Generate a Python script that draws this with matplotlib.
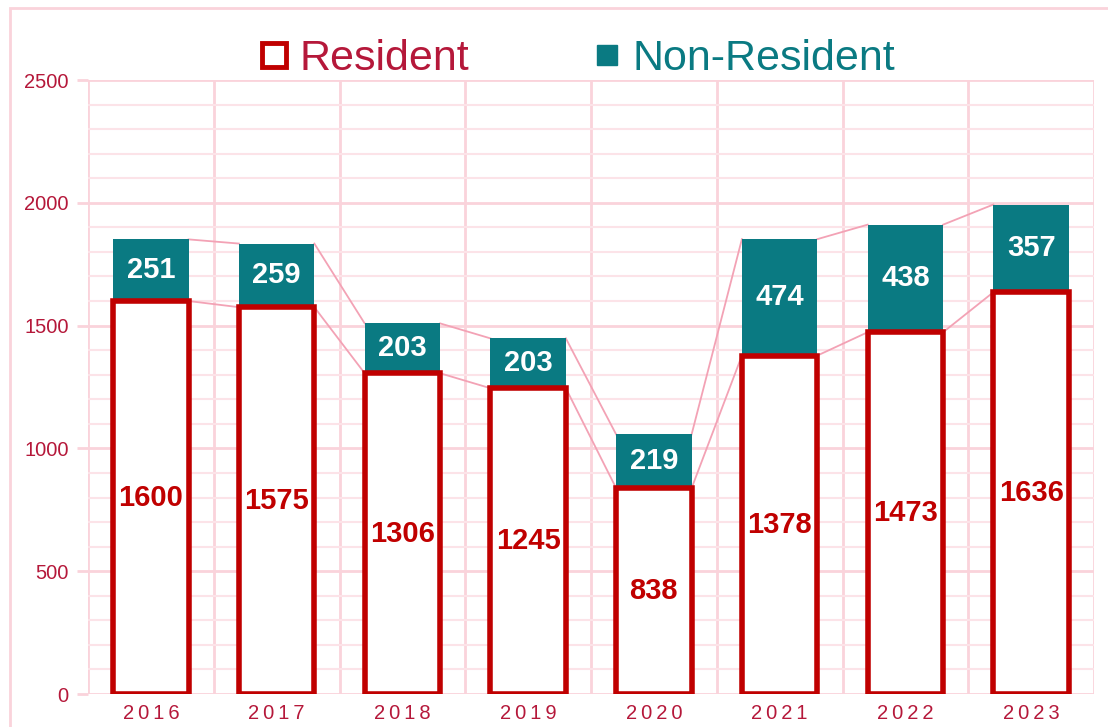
import numpy as np
import matplotlib.pyplot as plt
from matplotlib.lines import Line2D
from matplotlib.patches import Rectangle
from matplotlib.ticker import MultipleLocator

plt.rcParams['font.family'] = ['Liberation Sans', 'DejaVu Sans']

# Daten
years = ['2016', '2017', '2018', '2019', '2020', '2021', '2022', '2023']
resident = np.array([1600, 1575, 1306, 1245, 838, 1378, 1473, 1636])
non_resident = np.array([251, 259, 203, 203, 219, 474, 438, 357])

red = '#C00000'
teal = '#0A7A82'
crimson = '#B5183A'
pink = '#FAD3DB'
pink_minor = '#FCE3E8'
line_pink = '#F3A2B5'

fig = plt.figure(figsize=(11.08, 7.27), dpi=100)
ax = fig.add_axes([88 / 1108, 1 - 694 / 727, (1094 - 88) / 1108, (694 - 80) / 727])

# Rahmen um die ganze Grafik
fig.patches.append(Rectangle((10 / 1108, -0.2), 1.2, 1.2 - 8 / 727, transform=fig.transFigure,
                             fill=False, edgecolor=pink, linewidth=2, zorder=0))

x = np.arange(len(years))
w = 0.6
total = resident + non_resident

ax.bar(x, non_resident, w, bottom=resident, color=teal, zorder=3)
ax.bar(x, resident, w, facecolor='white', edgecolor=red, linewidth=4, zorder=4)

# Verbindungslinien zwischen den Balken
for i in range(len(years) - 1):
    for top in (resident, total):
        ax.plot([x[i] + w / 2, x[i + 1] - w / 2], [top[i], top[i + 1]],
                color=line_pink, linewidth=1.3, zorder=2)

for i in range(len(years)):
    ax.text(x[i], resident[i] / 2, str(resident[i]), ha='center', va='center',
            fontsize=21, fontweight='bold', color=red, zorder=5)
    ax.text(x[i], resident[i] + non_resident[i] / 2, str(non_resident[i]), ha='center',
            va='center', fontsize=21, fontweight='bold', color='white', zorder=5)

ax.set_xlim(-0.5, len(years) - 0.5)
ax.set_ylim(0, 2500)
ax.yaxis.set_major_locator(MultipleLocator(500))
ax.yaxis.set_minor_locator(MultipleLocator(100))
ax.set_xticks(x)
ax.set_xticklabels(['\u2009'.join(y) for y in years], fontsize=14.5, color=crimson)
ax.tick_params(axis='x', length=0, pad=7)
ax.tick_params(axis='y', which='major', length=8, color=pink, width=2, labelsize=14.5,
               labelcolor=crimson, pad=6)
ax.tick_params(axis='y', which='minor', length=0)

ax.grid(axis='y', which='major', color=pink, linewidth=2, zorder=0)
ax.grid(axis='y', which='minor', color=pink_minor, linewidth=1.5, zorder=0)
for b in np.arange(-0.5, len(years), 1):
    ax.axvline(b, color=pink, linewidth=2, zorder=0)
for s in ax.spines.values():
    s.set_visible(False)
ax.set_axisbelow(True)

handles = [Line2D([], [], marker='s', linestyle='none', markersize=17, markerfacecolor='white',
                  markeredgecolor=red, markeredgewidth=3.5),
           Line2D([], [], marker='s', linestyle='none', markersize=14.5, markerfacecolor=teal,
                  markeredgecolor=teal)]
leg = fig.legend(handles, ['Resident', 'Non-Resident'], loc='center', ncol=2,
                 bbox_to_anchor=(576 / 1108, 1 - 59 / 727), frameon=False, fontsize=31,
                 handletextpad=0.2, columnspacing=2.8, handlelength=0.8)
leg.get_texts()[0].set_color(crimson)
leg.get_texts()[1].set_color(teal)

plt.savefig('out.png', dpi=100)
